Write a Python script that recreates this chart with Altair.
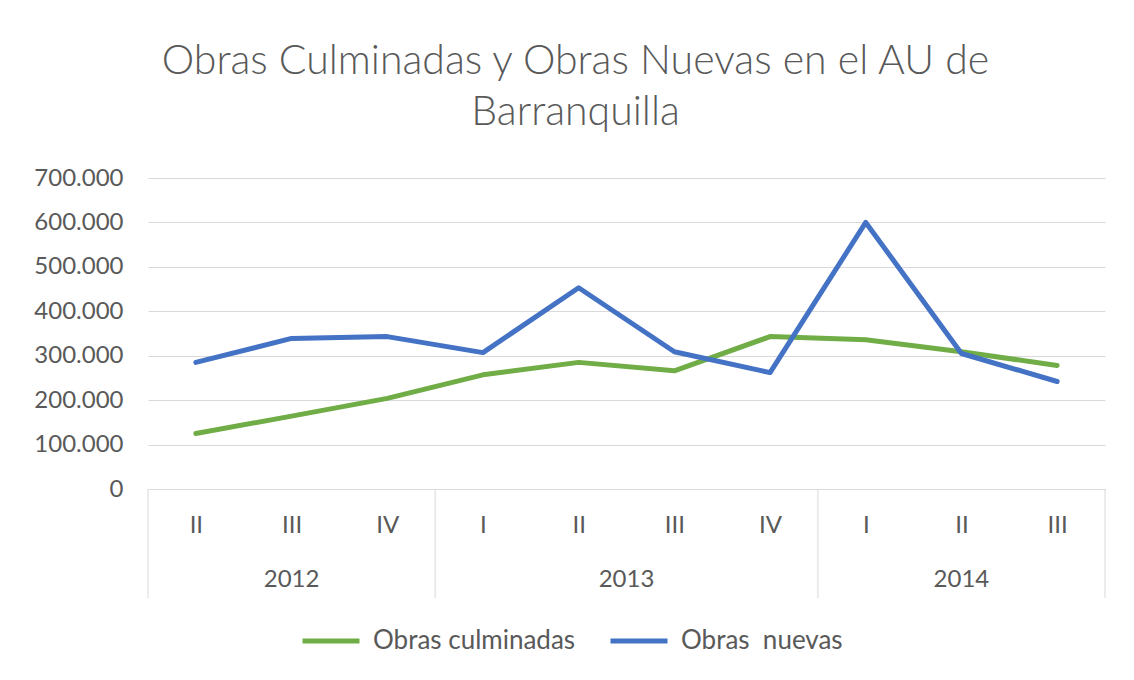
import altair as alt
import pandas as pd

quarters = ["II", "III", "IV", "I", "II", "III", "IV", "I", "II", "III"]
years = ["2012", "2012", "2012", "2013", "2013", "2013", "2013", "2014", "2014", "2014"]
culminadas = [125000, 164000, 204000, 257000, 285000, 266000, 343000, 336000, 309000, 278000]
nuevas = [285000, 339000, 343000, 307000, 453000, 309000, 262000, 600000, 305000, 242000]
series_names = ["Obras culminadas", "Obras\u00a0 nuevas"]
series_colors = ["#70AD47", "#4472C4"]
y_ticks = [0, 100000, 200000, 300000, 400000, 500000, 600000, 700000]
title_lines = ["Obras Culminadas y Obras Nuevas en el AU de", "Barranquilla"]

rows = []
for i, (q, yr) in enumerate(zip(quarters, years)):
    rows.append(dict(idx=i, quarter=q, year=yr, serie=series_names[0], value=culminadas[i]))
    rows.append(dict(idx=i, quarter=q, year=yr, serie=series_names[1], value=nuevas[i]))
df = pd.DataFrame(rows)

year_order = list(dict.fromkeys(years))
groups = []
bounds = [-0.5]
for yr in year_order:
    ids = [i for i, y in enumerate(years) if y == yr]
    groups.append(dict(year=yr, pos=(ids[0] + ids[-1]) / 2))
    bounds.append(ids[-1] + 0.5)
years_df = pd.DataFrame(groups)
bounds_df = pd.DataFrame({"pos": bounds})

FONT = "Lato"
GRAY = "#595959"
GRID = "#D9D9D9"
W, H = 957, 311

x_scale = alt.Scale(domain=[-0.5, len(quarters) - 0.5], nice=False, zero=False)
label_expr = "[" + ",".join(f"'{q}'" for q in quarters) + "][datum.value]"

lines = alt.Chart(df).mark_line(strokeWidth=5, strokeCap="round", strokeJoin="round").encode(
    x=alt.X("idx:Q", scale=x_scale,
            axis=alt.Axis(values=list(range(len(quarters))), labelExpr=label_expr, title=None,
                          grid=False, ticks=False, tickSize=0, labelPadding=36,
                          labelBaseline="middle", labelFontSize=24, labelColor=GRAY,
                          labelFont=FONT, domainColor=GRID, domainWidth=1)),
    y=alt.Y("value:Q", scale=alt.Scale(domain=[0, 700000], nice=False),
            axis=alt.Axis(values=y_ticks,
                          labelExpr="replace(format(datum.value, ','), ',', '.')",
                          title=None, domain=False, ticks=False, tickSize=0, labelPadding=25,
                          gridColor=GRID, gridWidth=1, labelFontSize=24, labelColor=GRAY,
                          labelFont=FONT)),
    color=alt.Color("serie:N", sort=series_names,
                    scale=alt.Scale(domain=series_names, range=series_colors),
                    legend=alt.Legend(title=None, orient="none", legendX=152, legendY=432,
                                      direction="horizontal", symbolType="stroke",
                                      symbolSize=3249, symbolStrokeWidth=5,
                                      labelFontSize=26, labelFont=FONT, labelColor=GRAY,
                                      labelLimit=0, columnPadding=24, labelOffset=11)),
)

seps = alt.Chart(bounds_df).mark_rule(color=GRID, strokeWidth=1).encode(
    x=alt.X("pos:Q", scale=x_scale),
    y=alt.value(H),
    y2=alt.value(420),
)

year_text = alt.Chart(years_df).mark_text(fontSize=24, font=FONT, color=GRAY, baseline="middle").encode(
    x=alt.X("pos:Q", scale=x_scale),
    y=alt.value(402),
    text="year:N",
)

chart = alt.layer(seps, lines, year_text).properties(
    width=W, height=H,
    title=alt.TitleParams(title_lines, fontSize=41, font=FONT, fontWeight=300, color=GRAY,
                          anchor="middle", dx=-51, lineHeight=51, offset=32),
    autosize=alt.AutoSizeParams(type="none"),
    padding={"left": 140, "top": 170, "right": 21, "bottom": 183},
    background="white",
).configure_view(stroke=None)

chart.save("out.html", embed_options={"renderer": "svg", "actions": False})
